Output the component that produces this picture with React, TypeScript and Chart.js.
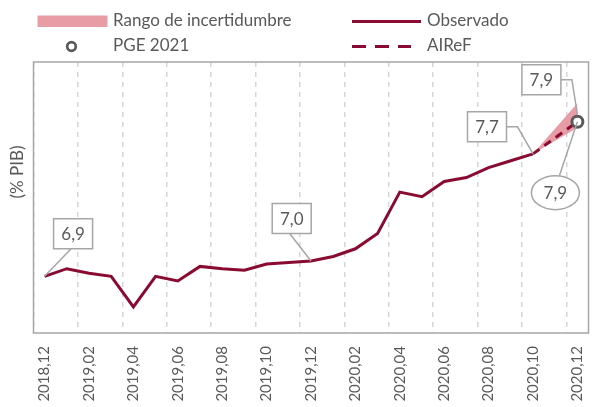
import React, { useEffect, useRef } from "react";
import { Chart, registerables } from "chart.js";
Chart.register(...registerables);

const months = [
  "2018,12", "2019,01", "2019,02", "2019,03", "2019,04", "2019,05", "2019,06",
  "2019,07", "2019,08", "2019,09", "2019,10", "2019,11", "2019,12", "2020,01",
  "2020,02", "2020,03", "2020,04", "2020,05", "2020,06", "2020,07", "2020,08",
  "2020,09", "2020,10", "2020,11", "2020,12",
];
const observed = [
  6.9, 6.95, 6.92, 6.9, 6.7, 6.9, 6.87, 6.965, 6.95, 6.94, 6.98, 6.99, 7.0,
  7.03, 7.08, 7.18, 7.45, 7.42, 7.52, 7.545, 7.61, 7.655, 7.7,
];
const airefIdx = [22, 24];
const airefValues = [7.7, 7.91];
const bandUpper = [7.7, 8.03];
const bandLower = [7.7, 7.87];
const pgeIdx = 24;
const pgeValue = 7.91;
const yMin = 6.53;
const yMax = 8.3;

const legendLabels = ["Rango de incertidumbre", "PGE 2021", "Observado", "AIReF"];
const yTitle = "(% PIB)";

const RED = "#8a0b31";
const PINK = "rgba(230,145,156,0.9)";
const GREY_TXT = "#595959";
const BOX_GREY = "#a6a6a6";
const FONT = "Lato, 'Open Sans', sans-serif";

const fmt = (v: number) => v.toFixed(1).replace(".", ",");

type Ann = {
  idx: number;
  value: number;
  dx: number;
  dy: number;
  shape: "box" | "ellipse";
  leader: "bottom" | "elbow" | "top";
  tipDy?: number;
};

const annotations: Ann[] = [
  { idx: 0, value: observed[0], dx: 28.5, dy: -42.5, shape: "box", leader: "bottom" },
  { idx: 12, value: observed[12], dx: -19.3, dy: -42.5, shape: "box", leader: "bottom" },
  { idx: 22, value: observed[22], dx: -46, dy: -27, shape: "box", leader: "elbow" },
  { idx: airefIdx[1], value: airefValues[1], dx: -36, dy: -42, shape: "box", leader: "elbow", tipDy: -7 },
  { idx: pgeIdx, value: pgeValue, dx: -22, dy: 71, shape: "ellipse", leader: "top" },
];

const gridTicks: number[] = [];
for (let k = 0; k <= 12; k++) {
  gridTicks.push(-0.5 + 2 * k);
  gridTicks.push(2 * k);
}
gridTicks.sort((a, b) => a - b);

const decorPlugin = {
  id: "decor",
  beforeDatasetsDraw(chart: any) {
    const { ctx, chartArea: a } = chart;
    ctx.save();
    ctx.strokeStyle = BOX_GREY;
    ctx.lineWidth = 1.5;
    ctx.strokeRect(a.left, a.top, a.right - a.left, a.bottom - a.top);
    ctx.restore();
  },
  afterDatasetsDraw(chart: any) {
    const { ctx } = chart;
    const xs = chart.scales.x;
    const ys = chart.scales.y;
    ctx.save();
    ctx.font = `17px ${FONT}`;
    ctx.textAlign = "center";
    ctx.textBaseline = "middle";
    for (const an of annotations) {
      const px = xs.getPixelForValue(an.idx);
      const py = ys.getPixelForValue(an.value);
      const cx = px + an.dx;
      const cy = py + an.dy;
      const w = 39, h = 30;
      ctx.strokeStyle = BOX_GREY;
      ctx.lineWidth = 1.5;
      ctx.beginPath();
      const ty = py + (an.tipDy || 0);
      if (an.leader === "bottom") {
        ctx.moveTo(cx - 2, cy + h / 2);
        ctx.lineTo(px, ty);
      } else if (an.leader === "elbow") {
        ctx.moveTo(cx + w / 2, cy);
        ctx.lineTo(cx + w / 2 + 11, cy);
        ctx.lineTo(px, ty);
      } else {
        ctx.moveTo(cx + 4, cy - 17);
        ctx.lineTo(px, ty);
      }
      ctx.stroke();
      ctx.fillStyle = "#ffffff";
      ctx.beginPath();
      if (an.shape === "box") {
        ctx.rect(cx - w / 2, cy - h / 2, w, h);
      } else {
        ctx.ellipse(cx, cy, 24, 17, 0, 0, Math.PI * 2);
      }
      ctx.fill();
      ctx.stroke();
      ctx.fillStyle = GREY_TXT;
      ctx.fillText(fmt(an.value), cx, cy + 1);
    }
    ctx.restore();
  },
  afterDraw(chart: any) {
    const { ctx } = chart;
    ctx.save();
    ctx.font = `17px ${FONT}`;
    ctx.fillStyle = GREY_TXT;
    ctx.textBaseline = "middle";
    ctx.textAlign = "left";
    ctx.fillStyle = PINK;
    ctx.fillRect(37.5, 15.5, 70, 11.5);
    ctx.fillStyle = GREY_TXT;
    ctx.fillText(legendLabels[0], 113, 21);
    ctx.strokeStyle = RED;
    ctx.lineWidth = 3;
    ctx.beginPath();
    ctx.moveTo(352, 21.5);
    ctx.lineTo(421, 21.5);
    ctx.stroke();
    ctx.fillText(legendLabels[2], 427, 21);
    ctx.strokeStyle = GREY_TXT;
    ctx.lineWidth = 2.7;
    ctx.beginPath();
    ctx.arc(71.5, 46.5, 4.3, 0, Math.PI * 2);
    ctx.stroke();
    ctx.fillText(legendLabels[1], 113, 46);
    ctx.strokeStyle = RED;
    ctx.lineWidth = 3;
    ctx.setLineDash([14, 9]);
    ctx.beginPath();
    ctx.moveTo(352, 46.5);
    ctx.lineTo(411, 46.5);
    ctx.stroke();
    ctx.setLineDash([]);
    ctx.fillText(legendLabels[3], 427, 46);
    ctx.translate(18, 172);
    ctx.rotate(-Math.PI / 2);
    ctx.textAlign = "center";
    ctx.fillText(yTitle, 0, 0);
    ctx.restore();
  },
};

export default function App() {
  const ref = useRef<HTMLCanvasElement>(null);
  useEffect(() => {
    document.body.style.margin = "0";
    const canvas = ref.current!;
    const chart = new Chart(canvas, {
      type: "line",
      data: {
        datasets: [
          {
            label: "PGE 2021",
            data: [{ x: pgeIdx, y: pgeValue }],
            showLine: false,
            pointRadius: 5.5,
            pointBorderWidth: 3,
            pointBorderColor: GREY_TXT,
            pointBackgroundColor: "#ffffff",
            order: 0,
          },
          {
            label: "Observado",
            data: observed.map((v, i) => ({ x: i, y: v })),
            borderColor: RED,
            borderWidth: 3,
            pointRadius: 0,
            tension: 0,
            order: 1,
          },
          {
            label: "AIReF",
            data: airefIdx.map((x, i) => ({ x, y: airefValues[i] })),
            borderColor: RED,
            borderWidth: 3,
            borderDash: [8, 6],
            pointRadius: 0,
            order: 2,
          },
          {
            label: "upper",
            data: airefIdx.map((x, i) => ({ x, y: bandUpper[i] })),
            borderWidth: 0,
            borderColor: "rgba(0,0,0,0)",
            backgroundColor: PINK,
            pointRadius: 0,
            fill: "+1",
            order: 3,
          },
          {
            label: "lower",
            data: airefIdx.map((x, i) => ({ x, y: bandLower[i] })),
            borderWidth: 0,
            borderColor: "rgba(0,0,0,0)",
            pointRadius: 0,
            fill: false,
            order: 4,
          },
        ],
      },
      options: {
        animation: false,
        responsive: false,
        layout: { padding: { left: 33.5, right: 4, top: 62, bottom: 2 } },
        plugins: { legend: { display: false }, tooltip: { enabled: false } },
        scales: {
          x: {
            type: "linear",
            min: -0.5,
            max: 24.5,
            afterBuildTicks: (scale: any) => {
              scale.ticks = gridTicks.map((v) => ({ value: v }));
            },
            afterFit: (scale: any) => {
              scale.paddingLeft = 0;
              scale.paddingRight = 0;
              scale.height = 72;
            },
            ticks: {
              autoSkip: false,
              minRotation: 90,
              maxRotation: 90,
              padding: 13,
              color: GREY_TXT,
              font: { family: FONT, size: 15 },
              callback: (v: any) => {
                const n = Number(v);
                return Number.isInteger(n) && n % 2 === 0 ? months[n] : "";
              },
            },
            grid: {
              drawTicks: false,
              lineWidth: 1.5,
              color: (c: any) =>
                c.tick && !Number.isInteger(c.tick.value) ? "#d6d6d6" : "rgba(0,0,0,0)",
            },
            border: { display: false, dash: [5, 5] },
          },
          y: {
            display: false,
            min: yMin,
            max: yMax,
          },
        },
      },
      plugins: [decorPlugin],
    });
    return () => chart.destroy();
  }, []);
  return (
    <div style={{ width: 597, height: 407 }}>
      <canvas ref={ref} width={597} height={407} />
    </div>
  );
}
